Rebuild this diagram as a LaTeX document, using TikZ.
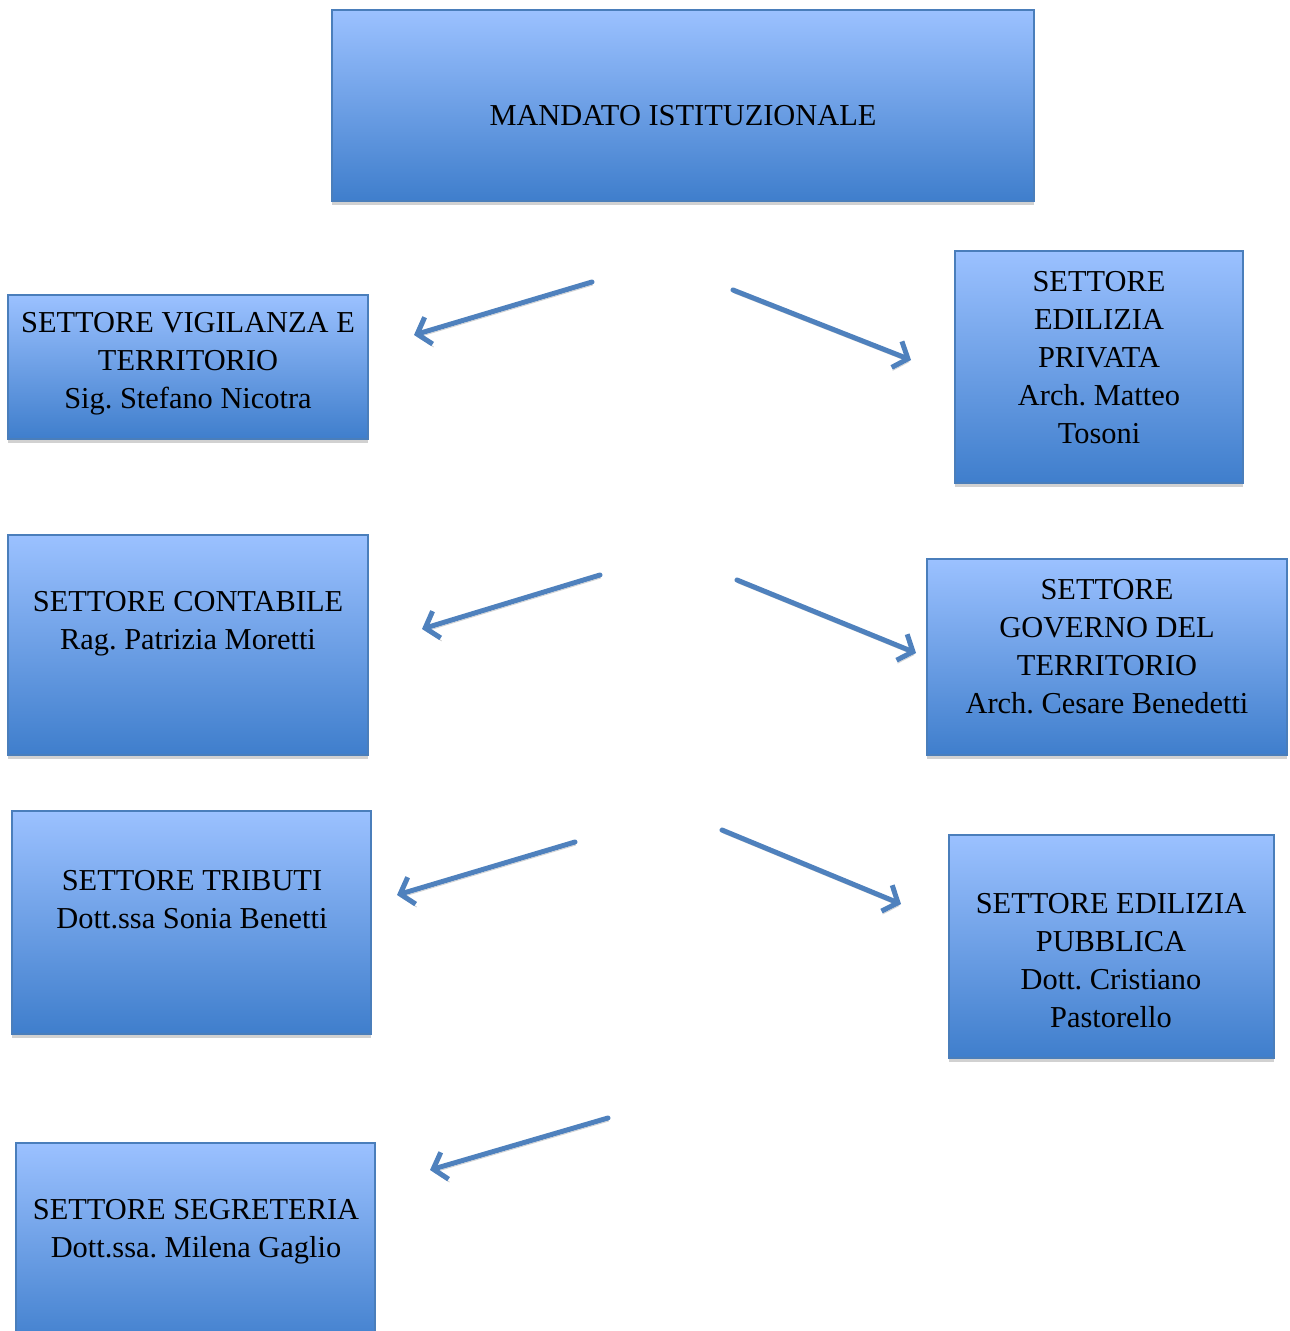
\documentclass[tikz,border=0pt]{standalone}
\usepackage{fontspec}
\setmainfont{Liberation Serif}
\usetikzlibrary{arrows.meta}
\definecolor{boxtop}{RGB}{155,193,255}
\definecolor{boxbot}{RGB}{63,126,204}
\definecolor{boxline}{RGB}{74,126,187}
\definecolor{arrowblue}{RGB}{79,129,189}
\tikzset{>={Straight Barb[length=6pt,width=14pt]}}
\tikzset{
    settore/.style={draw=boxline, line width=.6pt, top color=boxtop, bottom color=boxbot,
        inner sep=0pt, outer sep=0pt, anchor=north west,
        preaction={draw=none, fill=black!18, transform canvas={yshift=-2pt}}},
    testo/.style={align=center, font=\fontsize{15.2}{19}\selectfont\frenchspacing},
    freccia/.style={->, line width=2.5pt, arrowblue, line cap=round,
        preaction={draw=black!18, transform canvas={shift={(.5pt,-1.5pt)}}}}
}

\begin{document}
\begin{tikzpicture}[x=.5pt, y=-.5pt]
    \useasboundingbox (0, 0) rectangle (1289, 1331);
    % caselle
    \node[settore, minimum width=351pt, minimum height=95.5pt](mandato) at (332, 10){};
    \node[settore, minimum width=180pt, minimum height=72pt](vigilanza) at (8, 295){};
    \node[settore, minimum width=144pt, minimum height=116pt](edprivata) at (955, 251){};
    \node[settore, minimum width=180pt, minimum height=110pt](contabile) at (8, 535){};
    \node[settore, minimum width=180pt, minimum height=98pt](governo) at (927, 559){};
    \node[settore, minimum width=179.5pt, minimum height=111.5pt](tributi) at (12, 811){};
    \node[settore, minimum width=162.5pt, minimum height=111.5pt](edpubblica) at (949, 835){};
    \node[settore, minimum width=179.5pt, minimum height=104pt](segreteria) at (16, 1143){};
    % testi
    \node[testo](tmandato) at (683, 116){MANDATO ISTITUZIONALE};
    \node[testo](tvigilanza) at (188, 364){SETTORE VIGILANZA E\\TERRITORIO\\Sig. Stefano Nicotra};
    \node[testo](tedprivata) at (1099, 358){SETTORE\\EDILIZIA\\PRIVATA\\Arch. Matteo\\Tosoni};
    \node[testo](tcontabile) at (188, 624){SETTORE CONTABILE\\Rag. Patrizia Moretti};
    \node[testo](tgoverno) at (1107, 647){SETTORE\\GOVERNO DEL\\TERRITORIO\\Arch. Cesare Benedetti};
    \node[testo](ttributi) at (192, 900){SETTORE TRIBUTI\\Dott.ssa Sonia Benetti};
    \node[testo](tedpubblica) at (1111, 961){SETTORE EDILIZIA\\PUBBLICA\\Dott. Cristiano\\Pastorello};
    \node[testo](tsegreteria) at (196, 1232){SETTORE SEGRETERIA\\Dott.ssa. Milena Gaglio};
    % frecce
    \coordinate (da1) at (592, 282); \coordinate (a1) at (414, 335);
    \coordinate (db1) at (733, 290); \coordinate (b1) at (911, 360);
    \coordinate (da2) at (600, 575); \coordinate (a2) at (422, 629);
    \coordinate (db2) at (737, 580); \coordinate (b2) at (916, 653);
    \coordinate (da3) at (575, 842); \coordinate (a3) at (397, 895);
    \coordinate (db3) at (722, 830); \coordinate (b3) at (901, 904);
    \coordinate (da4) at (608, 1118); \coordinate (a4) at (430, 1170);
    \draw[freccia](da1)--(a1);
    \draw[freccia](db1)--(b1);
    \draw[freccia](da2)--(a2);
    \draw[freccia](db2)--(b2);
    \draw[freccia](da3)--(a3);
    \draw[freccia](db3)--(b3);
    \draw[freccia](da4)--(a4);
\end{tikzpicture}
\end{document}
